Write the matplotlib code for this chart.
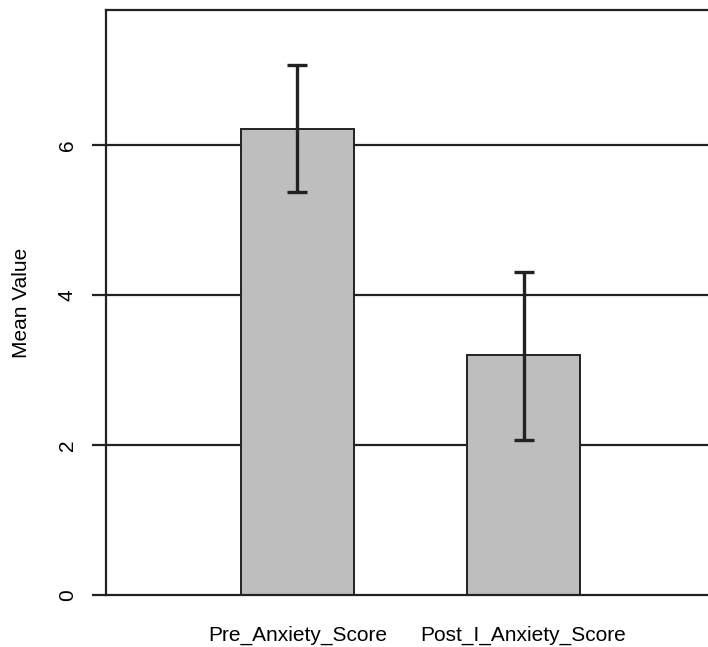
import matplotlib
matplotlib.use("Agg")
import matplotlib.pyplot as plt

categories = ["Pre_Anxiety_Score", "Post_I_Anxiety_Score"]
means = [6.22, 3.20]
lower = [5.38, 2.06]
upper = [7.07, 4.31]
yticks = [0, 2, 4, 6]

plt.rcParams["font.family"] = ["Liberation Sans", "DejaVu Sans"]

fig = plt.figure(figsize=(7.08, 6.47), dpi=100)
ax = fig.add_axes([0.1497, 0.0804, 0.8503, 0.9041])

x = list(range(len(categories)))
for y in yticks[1:]:
    ax.axhline(y, color="#222222", lw=1.6, zorder=1)

ax.bar(x, means, width=0.5, color="#bebebe", edgecolor="#222222", lw=1.4, zorder=2)
err = [[m - l for m, l in zip(means, lower)], [u - m for m, u in zip(means, upper)]]
ax.errorbar(x, means, yerr=err, fmt="none", ecolor="#222222", elinewidth=2.4,
            capsize=7.5, capthick=2.4, zorder=3)

ax.set_xlim(-0.847, 1.816)
ax.set_ylim(0, 7.8)
ax.set_yticks(yticks)
ax.set_yticklabels([str(t) for t in yticks], rotation=90, va="center", fontsize=15)
ax.set_xticks(x)
ax.set_xticklabels(categories, fontsize=15)
ax.tick_params(axis="x", length=0, pad=22)
ax.tick_params(axis="y", length=10, width=1.6, color="#222222", pad=11)
ax.set_ylabel("Mean Value", fontsize=15, labelpad=19)
ax.spines["right"].set_visible(False)
for s in ["left", "top", "bottom"]:
    ax.spines[s].set_linewidth(1.6)
    ax.spines[s].set_color("#222222")

fig.savefig("out.png", dpi=100)
